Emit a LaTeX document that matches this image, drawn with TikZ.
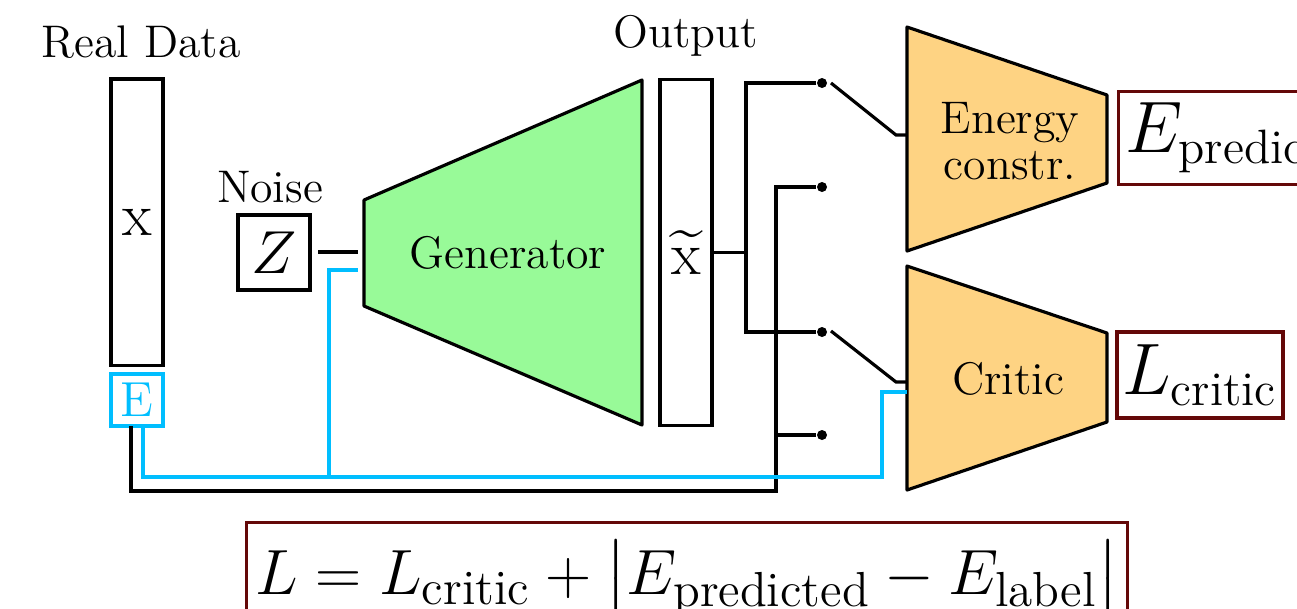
\documentclass[tikz,border=0pt]{standalone}
\usepackage{amsmath}
\definecolor{gengreen}{RGB}{152,250,152}
\definecolor{critorange}{RGB}{254,211,131}
\definecolor{skyline}{RGB}{0,190,255}
\definecolor{lossred}{RGB}{100,8,8}
\begin{document}
\begin{tikzpicture}[x=0.01cm,y=-0.01cm,
  lbl/.style={font=\fontsize{13}{13}\selectfont, inner sep=0},
  vecbox/.style={draw, line width=0.9pt, inner sep=0},
  wire/.style={line width=0.9pt},
  cwire/.style={line width=0.9pt, draw=skyline},
  dot/.style={circle, fill=black, inner sep=0, minimum size=0.1cm},
  lossbox/.style={draw=lossred, line width=0.9pt, font=\fontsize{19.6}{22}\selectfont},
  trap/.style={draw, line width=0.9pt, line join=round}
]
\useasboundingbox (0,0) rectangle (1297,608);
\clip (0,0) rectangle (1297,608);

% labels
\node[lbl] (reallbl) at (141,42) {Real Data};
\node[lbl] (noiselbl) at (270,187) {Noise};
\node[lbl] (outlbl) at (686,36) {Output};

% boxes
\node[vecbox, minimum width=0.52cm, minimum height=2.86cm, font=\fontsize{17.5}{17}\selectfont] (xbox) at (137,222) {$\mathrm{x}$};
\node[vecbox, draw=skyline, text=skyline, minimum width=0.52cm, minimum height=0.52cm, font=\fontsize{14}{14}\selectfont] (ebox) at (137,400) {E};
\node[vecbox, minimum width=0.72cm, minimum height=0.75cm, font=\fontsize{17}{17}\selectfont] (zbox) at (274,252.5) {$Z$};
\node[vecbox, minimum width=0.52cm, minimum height=3.45cm, font=\fontsize{17.5}{17}\selectfont] (obox) at (686,252.5) {$\widetilde{\mathrm{x}}$};

% generator
\draw[trap, fill=gengreen] (364,200) coordinate (g1) -- (642,80) -- (642,425) -- (364,306) -- cycle;
\node[lbl] (gen) at (508,253) {Generator};

% energy constr.
\draw[trap, fill=critorange] (907,27) coordinate (e1) -- (1107,95) -- (1107,183) -- (907,251) -- cycle;
\node[lbl, align=center] (energy) at (1010,141) {Energy\\constr.};

% critic
\draw[trap, fill=critorange] (907,266) coordinate (c1) -- (1107,333) -- (1107,422) -- (907,490) -- cycle;
\node[lbl] (critic) at (1008,379) {Critic};

% output labels
\node[lossbox, anchor=west, minimum height=0.86cm, inner xsep=2pt] (epred) at (1117,138) {$E_\text{predicted}$};
\node[lossbox, minimum height=0.86cm, minimum width=1.66cm, inner sep=1pt] (lcrit) at (1200,375) {$L_\text{critic}$};
\node[lossbox, font=\fontsize{19}{22}\selectfont, anchor=north, minimum width=8.8cm, minimum height=1.12cm, inner xsep=2pt] (loss) at (687,521) {\scalebox{1.053}{$L = L_\text{critic} + \left|E_\text{predicted} - E_\text{label}\right|$}};

% dots
\node[dot] (d1) at (822,83) {};
\node[dot] (d2) at (822,187) {};
\node[dot] (d3) at (822,332) {};
\node[dot] (d4) at (822,435) {};

% coordinates
\coordinate (zl1) at (318,252);
\coordinate (zl2) at (358,252);
\coordinate (ebl) at (131,426);
\coordinate (ebc) at (143,426);
\coordinate (ojoin) at (746,252.5);
\coordinate (eswA) at (831,83);
\coordinate (eswB) at (896,135);
\coordinate (ein) at (907,135);
\coordinate (cswA) at (831,331);
\coordinate (cswB) at (896,382);
\coordinate (cin) at (907,382);
\coordinate (cin2) at (907,392);
\coordinate (ncy) at (358,270);

% noise line
\draw[wire] (zl1) -- (zl2);

% output wiring
\draw[wire] (obox.east) -- (ojoin);
\draw[wire] (d1) -- (746,83) -- (746,332) -- (d3);

% real data wiring (black)
\draw[wire] (ebl) -- (131,491) -- (776,491) -- (776,187) -- (d2);
\draw[wire] (776,435) -- (d4);

% energy label wiring (cyan)
\draw[cwire] (ebc) -- (143,477) -- (882,477) -- (882,392) -- (cin2);
\draw[cwire] (329,477) -- (329,270) -- (ncy);

% switches
\draw[wire] (eswA) -- (eswB) -- (ein);
\draw[wire] (cswA) -- (cswB) -- (cin);
\end{tikzpicture}
\end{document}
